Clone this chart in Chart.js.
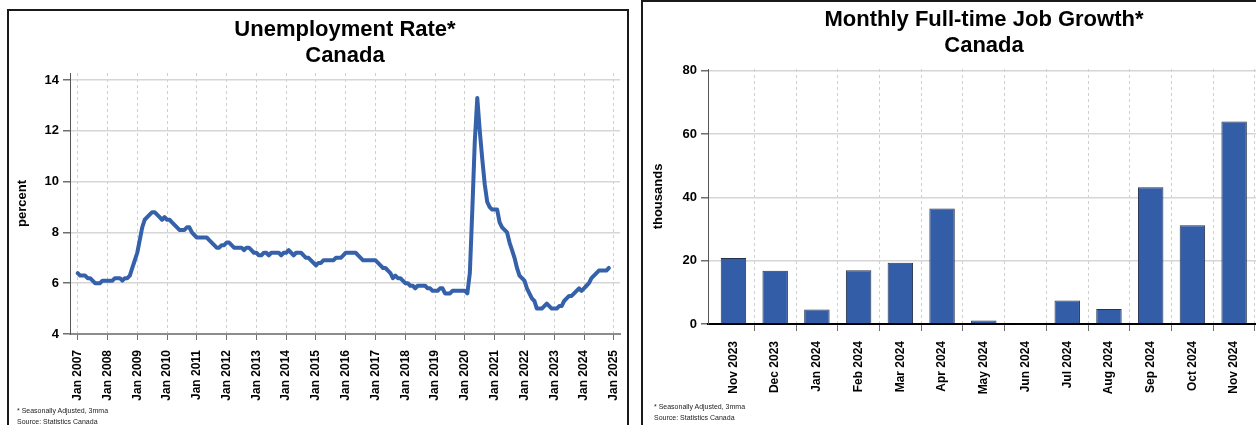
<!DOCTYPE html>
<html>
<head>
<meta charset="utf-8">
<script src="https://cdn.jsdelivr.net/npm/chart.js@4.4.1/dist/chart.umd.min.js"></script>
<style>
  html, body { margin: 0; padding: 0; background: #fff; width: 1256px; height: 425px; overflow: hidden; }
  body { position: relative; font-family: "Liberation Sans", Arial, sans-serif; }
  .panel { position: absolute; border: 2px solid #1a1a1a; box-sizing: border-box; }
  .title { position: absolute; font-weight: bold; font-size: 22px; line-height: 26px; color: #000; text-align: center; white-space: nowrap; transform: translateX(-50%); }
  .note { position: absolute; font-size: 7px; line-height: 11px; color: #222; white-space: nowrap; }
  canvas { position: absolute; }
</style>
</head>
<body>
<div class="panel" style="left:7px;top:9px;width:622px;height:440px"></div>
<div class="panel" style="left:641px;top:0px;width:640px;height:440px"></div>

<canvas id="rateChart" width="617" height="414" style="left:9px;top:11px"></canvas>
<canvas id="jobsChart" width="620" height="422" style="left:645px;top:3px"></canvas>

<div class="title" style="left:345px;top:16px">Unemployment Rate*<br>Canada</div>
<div class="title" style="left:984px;top:6px">Monthly Full-time Job Growth*<br>Canada</div>

<div class="note" style="left:17px;top:405px">* Seasonally Adjusted, 3mma<br>Source: Statistics Canada</div>
<div class="note" style="left:654px;top:401px">* Seasonally Adjusted, 3mma<br>Source: Statistics Canada</div>

<script>
// unemployment rate, monthly from Jan 2007 to Nov 2024 (percent, 3mma)
const rateTickLabels = [
  "Jan 2007", "Jan 2008", "Jan 2009", "Jan 2010", "Jan 2011", "Jan 2012", "Jan 2013",
  "Jan 2014", "Jan 2015", "Jan 2016", "Jan 2017", "Jan 2018", "Jan 2019", "Jan 2020",
  "Jan 2021", "Jan 2022", "Jan 2023", "Jan 2024", "Jan 2025",
];
const rateYTicks = [4, 6, 8, 10, 12, 14];
const rateValues = [
  6.4, 6.3, 6.3, 6.3, 6.2, 6.2, 6.1, 6.0, 6.0, 6.0, 6.1, 6.1,
  6.1, 6.1, 6.1, 6.2, 6.2, 6.2, 6.1, 6.2, 6.2, 6.3, 6.6, 6.9,
  7.2, 7.7, 8.2, 8.5, 8.6, 8.7, 8.8, 8.8, 8.7, 8.6, 8.5, 8.6,
  8.5, 8.5, 8.4, 8.3, 8.2, 8.1, 8.1, 8.1, 8.2, 8.2, 8.0, 7.9,
  7.8, 7.8, 7.8, 7.8, 7.8, 7.7, 7.6, 7.5, 7.4, 7.4, 7.5, 7.5,
  7.6, 7.6, 7.5, 7.4, 7.4, 7.4, 7.4, 7.3, 7.4, 7.4, 7.3, 7.2,
  7.2, 7.1, 7.1, 7.2, 7.2, 7.1, 7.2, 7.2, 7.2, 7.2, 7.1, 7.2,
  7.2, 7.3, 7.2, 7.1, 7.2, 7.2, 7.2, 7.1, 7.0, 7.0, 6.9, 6.8,
  6.7, 6.8, 6.8, 6.9, 6.9, 6.9, 6.9, 6.9, 7.0, 7.0, 7.0, 7.1,
  7.2, 7.2, 7.2, 7.2, 7.2, 7.1, 7.0, 6.9, 6.9, 6.9, 6.9, 6.9,
  6.9, 6.8, 6.7, 6.6, 6.6, 6.5, 6.4, 6.2, 6.3, 6.2, 6.2, 6.1,
  6.0, 6.0, 5.9, 5.9, 5.8, 5.9, 5.9, 5.9, 5.9, 5.8, 5.8, 5.7,
  5.7, 5.7, 5.8, 5.8, 5.6, 5.6, 5.6, 5.7, 5.7, 5.7, 5.7, 5.7,
  5.7, 5.6, 6.4, 8.9, 11.6, 13.3, 12.0, 10.9, 9.9, 9.2, 9.0, 8.9,
  8.9, 8.9, 8.4, 8.2, 8.1, 8.0, 7.6, 7.3, 7.0, 6.6, 6.3, 6.2,
  6.1, 5.8, 5.6, 5.4, 5.3, 5.0, 5.0, 5.0, 5.1, 5.2, 5.1, 5.0,
  5.0, 5.0, 5.1, 5.1, 5.3, 5.4, 5.5, 5.5, 5.6, 5.7, 5.8, 5.7,
  5.8, 5.9, 6.0, 6.2, 6.3, 6.4, 6.5, 6.5, 6.5, 6.5, 6.6,
];

// full-time job growth (thousands)
const jobMonths = [
  "Nov 2023", "Dec 2023", "Jan 2024", "Feb 2024", "Mar 2024", "Apr 2024", "May 2024",
  "Jun 2024", "Jul 2024", "Aug 2024", "Sep 2024", "Oct 2024", "Nov 2024",
];
const jobYTicks = [0, 20, 40, 60, 80];
const jobValues = [20.8, 16.8, 4.6, 17.0, 19.3, 36.5, 1.1, 0.3, 7.4, 4.7, 43.2, 31.2, 63.9];

const FONT = "'Liberation Sans', Arial, sans-serif";
const tickFont = { family: FONT, size: 12, weight: "bold" };
const yTickFont = { family: FONT, size: 13, weight: "bold" };
const GRID = "#d6d6d6";
const TICK = "#6e6e6e";

// keep the axes from shrinking the plot for label overhang
const noPadding = (s) => {
  s.paddingLeft = 0;
  s.paddingRight = 0;
  s.paddingTop = 0;
  s.paddingBottom = 0;
};

// line chart, x is a month index (0 = Jan 2007)
new Chart(document.getElementById("rateChart"), {
  type: "line",
  data: {
    datasets: [
      {
        data: rateValues.map((v, i) => ({ x: i, y: v })),
        borderColor: "#3560AA",
        borderWidth: 4,
        pointRadius: 0,
        tension: 0,
        borderJoinStyle: "round",
        borderCapStyle: "round",
      },
    ],
  },
  options: {
    responsive: false,
    animation: false,
    devicePixelRatio: 1,
    layout: { padding: { top: 62, right: 6, bottom: 0, left: 0 } },
    plugins: { legend: { display: false }, tooltip: { enabled: false } },
    scales: {
      x: {
        type: "linear",
        min: -3.1,
        max: 218.5,
        offset: false,
        afterBuildTicks: (s) => {
          s.ticks = rateTickLabels.map((_, i) => ({ value: i * 12 }));
        },
        afterFit: (s) => {
          s.height = 91;
          noPadding(s);
        },
        ticks: {
          autoSkip: false,
          minRotation: 90,
          maxRotation: 90,
          padding: 10,
          color: "#000",
          font: tickFont,
          callback: (v, i) => rateTickLabels[i],
        },
        grid: { color: "#cfcfcf", lineWidth: 1, tickLength: 6, tickColor: TICK },
        border: { color: "#8c8c8c", width: 2, dash: [3, 3] },
      },
      y: {
        min: 4,
        max: 14.28,
        afterBuildTicks: (s) => {
          s.ticks = rateYTicks.map((v) => ({ value: v }));
        },
        afterFit: (s) => {
          s.width = 61;
          noPadding(s);
        },
        ticks: { padding: 4, color: "#000", font: yTickFont },
        grid: { color: GRID, lineWidth: 1.5, tickLength: 7, tickColor: TICK },
        border: { color: "#555", width: 1 },
        title: {
          display: true,
          text: "percent",
          color: "#000",
          font: { family: FONT, size: 13, weight: "bold" },
          padding: { top: 6, bottom: 4 },
        },
      },
    },
  },
});

// bar chart, x is the month position so the axis can start a bit before the first bar
new Chart(document.getElementById("jobsChart"), {
  type: "bar",
  data: {
    datasets: [
      {
        data: jobValues.map((v, i) => ({ x: i, y: v })),
        backgroundColor: "#345DA7",
        borderColor: "#26324d",
        borderWidth: 1,
        categoryPercentage: 1,
        barPercentage: 0.61,
      },
    ],
  },
  options: {
    responsive: false,
    animation: false,
    devicePixelRatio: 1,
    layout: { padding: { top: 66, right: 5, bottom: 0, left: 0 } },
    plugins: { legend: { display: false }, tooltip: { enabled: false } },
    scales: {
      x: {
        type: "linear",
        min: -0.61,
        max: 12.62,
        offset: false,
        afterBuildTicks: (s) => {
          s.ticks = jobMonths.map((_, i) => ({ value: i }));
        },
        afterFit: (s) => {
          s.height = 101;
          noPadding(s);
        },
        ticks: {
          autoSkip: false,
          minRotation: 90,
          maxRotation: 90,
          padding: 10,
          color: "#000",
          font: tickFont,
          callback: (v, i) => jobMonths[i],
        },
        grid: {
          offset: true,
          color: (ctx) => (ctx.index === 0 ? "rgba(0,0,0,0)" : "#cfcfcf"),
          tickColor: (ctx) => (ctx.index === 0 ? "rgba(0,0,0,0)" : TICK),
          lineWidth: 1,
          tickLength: 7,
        },
        border: { color: "#000", width: 2, dash: [3, 3] },
      },
      y: {
        min: 0,
        max: 80.5,
        afterBuildTicks: (s) => {
          s.ticks = jobYTicks.map((v) => ({ value: v }));
        },
        afterFit: (s) => {
          s.width = 63;
          noPadding(s);
        },
        ticks: { padding: 4, color: "#000", font: yTickFont },
        grid: { color: GRID, lineWidth: 1.5, tickLength: 7, tickColor: TICK },
        border: { color: "#555", width: 1 },
        title: {
          display: true,
          text: "thousands",
          color: "#000",
          font: { family: FONT, size: 13, weight: "bold" },
          padding: { top: 6, bottom: 4 },
        },
      },
    },
  },
});
</script>
</body>
</html>
